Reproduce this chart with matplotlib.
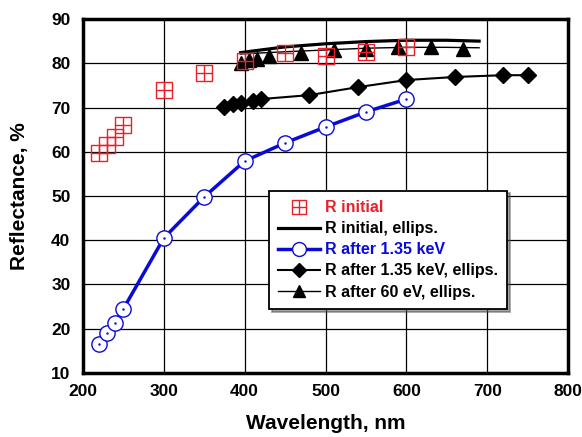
import matplotlib.pyplot as plt
from matplotlib.lines import Line2D

plt.rcParams['font.family'] = ['Liberation Sans', 'DejaVu Sans']
plt.rcParams['font.weight'] = 'bold'

# R initial (points)
wl_init = [220, 230, 240, 250, 300, 350, 400, 450, 500, 550, 600]
r_init = [59.8, 61.5, 63.3, 66.0, 74.0, 77.8, 80.5, 82.3, 81.6, 82.6, 83.6]

# R initial, ellipsometry (smooth curve)
wl_init_el = [395, 420, 450, 500, 550, 600, 650, 690]
r_init_el = [82.4, 83.0, 83.7, 84.4, 84.9, 85.2, 85.2, 85.0]

# R after 1.35 keV
wl_kev = [220, 230, 240, 250, 300, 350, 400, 450, 500, 550, 600]
r_kev = [16.5, 19.0, 21.3, 24.5, 40.5, 49.8, 57.9, 62.0, 65.6, 69.0, 71.9]

# R after 1.35 keV, ellipsometry
wl_kev_el = [375, 385, 396, 410, 420, 480, 540, 600, 660, 720, 750]
r_kev_el = [70.1, 70.8, 71.0, 71.5, 71.9, 72.8, 74.6, 76.2, 76.9, 77.3, 77.3]

# R after 60 eV, ellipsometry (points + fit line)
wl_ev = [395, 405, 415, 430, 470, 510, 550, 590, 631, 670]
r_ev = [80.0, 80.8, 81.0, 81.6, 82.3, 83.1, 83.2, 83.7, 83.7, 83.2]
wl_ev_fit = [395, 450, 500, 550, 600, 650, 690]
r_ev_fit = [82.1, 82.6, 83.0, 83.4, 83.6, 83.6, 83.5]

red = '#e8202a'
blue = '#0a0ad8'

fig = plt.figure(figsize=(5.82, 4.37), dpi=100)
ax = fig.add_axes([0.1426, 0.1465, 0.8334, 0.81])

ax.plot(wl_init_el, r_init_el, color='black', lw=2.3)
ax.plot(wl_ev_fit, r_ev_fit, color='black', lw=1.0)
ax.plot(wl_ev, r_ev, ls='none', marker='^', ms=10, color='black')
ax.plot(wl_kev_el, r_kev_el, color='black', lw=1.5, marker='D', ms=8.5)
ax.plot(wl_kev, r_kev, color=blue, lw=2.5, marker='o', ms=11,
        mfc='white', mec=blue, mew=1.0)
ax.plot(wl_kev, r_kev, ls='none', marker='.', ms=1.5, color=blue)
ax.plot(wl_init, r_init, ls='none', marker='s', ms=11, mfc='none',
        mec=red, mew=1.0)
ax.plot(wl_init, r_init, ls='none', marker='+', ms=11, color=red, mew=1.0)

ax.set_xlim(200, 800)
ax.set_ylim(10, 90)
ax.set_xticks(range(200, 801, 100))
ax.set_yticks(range(10, 91, 10))
ax.grid(True, color='black', lw=0.9)
ax.set_axisbelow(True)
ax.tick_params(length=0, labelsize=12.5)
ax.tick_params(axis='x', pad=8)
ax.tick_params(axis='y', pad=9)
for s in ax.spines.values():
    s.set_linewidth(2.5)

ax.set_xlabel('Wavelength, nm', fontsize=15, fontweight='bold', labelpad=11)
ax.set_ylabel('Reflectance, %', fontsize=15, fontweight='bold', labelpad=16)

handles = [
    (Line2D([], [], ls='none', marker='s', ms=10, mfc='none', mec=red),
     Line2D([], [], ls='none', marker='+', ms=10, color=red)),
    Line2D([], [], color='black', lw=2.3),
    Line2D([], [], color=blue, lw=2.5, marker='o', ms=10, mfc='white', mec=blue),
    Line2D([], [], color='black', lw=1.5, marker='D', ms=7),
    Line2D([], [], color='black', lw=1.0, marker='^', ms=8),
]
labels = ['R initial', 'R initial, ellips.', 'R after 1.35 keV',
          'R after 1.35 keV, ellips.', 'R after 60 eV, ellips.']
leg = ax.legend(handles, labels, loc='upper left', bbox_to_anchor=(0.383, 0.515),
                fontsize=11.5, frameon=True, fancybox=False, shadow=True,
                handlelength=2.6, handletextpad=0.3, labelspacing=0.38,
                borderpad=0.6, borderaxespad=0)
leg.get_frame().set_edgecolor('black')
leg.get_frame().set_linewidth(1.3)
for t, c in zip(leg.get_texts(), [red, 'black', blue, 'black', 'black']):
    t.set_color(c)

fig.savefig('out.png', dpi=100)
